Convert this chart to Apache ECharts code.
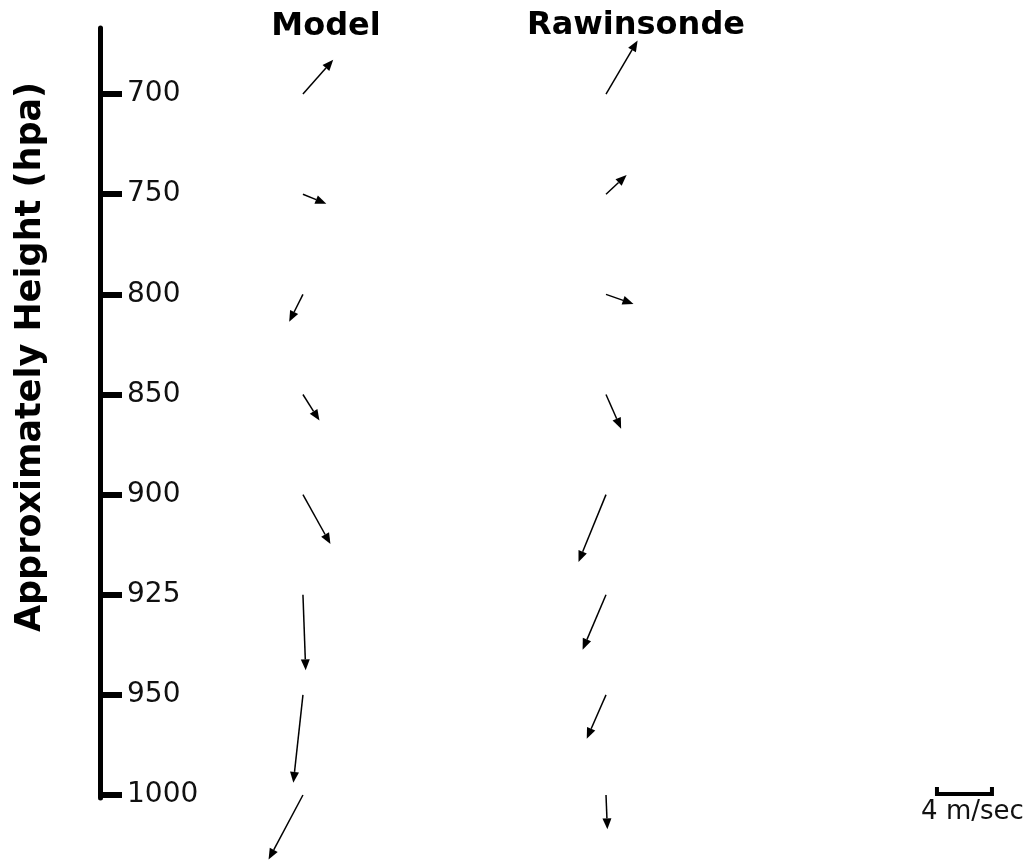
<!DOCTYPE html>
<html lang="en">
<head>
<meta charset="utf-8"/>
<title>Model vs Rawinsonde winds</title>
<script src="https://cdn.jsdelivr.net/npm/echarts@6.0.0/dist/echarts.min.js"></script>
<style>
    html, body { margin: 0; padding: 0; background: #fff; }
    #chart { width: 1033px; height: 865px; }
</style>
</head>
<body>
<div id="chart"></div>
<script>
// pressure levels (hPa), top to bottom
var levels = ['700', '750', '800', '850', '900', '925', '950', '1000'];
// wind components in m/s (u = eastward, v = northward)
var modelU = [2.2, 1.7, -1.0, 1.2, 2.0, 0.2, -0.7, -2.5];
var modelV = [2.5, -0.7, -2.0, -1.9, -3.6, -5.5, -6.4, -4.7];
var raobU = [2.3, 1.5, 2.0, 1.1, -2.0, -1.7, -1.4, 0.1];
var raobV = [3.9, 1.4, -0.7, -2.5, -4.9, -4.0, -3.2, -2.5];
var scaleSpeed = 4; // m/s

// column positions, in m/s units along the hidden x axis
var modelX = 14.76;
var raobX = 36.8;
var scaleX = 60.87;

var chart = echarts.init(document.getElementById('chart'));

function toData(u, v) {
    var out = [];
    for (var i = 0; i < levels.length; i++) {
        out.push([i, u[i], v[i]]);
    }
    return out;
}

// arrow from the level point, length scaled through the x axis (px per m/s)
function arrowRenderer(colX) {
    return function (params, api) {
        var tail = api.coord([colX, api.value(0)]);
        var unit = api.size([1, 0])[0];
        var hx = tail[0] + api.value(1) * unit;
        var hy = tail[1] - api.value(2) * unit;
        var ang = Math.atan2(hy - tail[1], hx - tail[0]);
        var len = 11, half = 4.5;
        var bx = hx - len * Math.cos(ang), by = hy - len * Math.sin(ang);
        var px = -Math.sin(ang) * half, py = Math.cos(ang) * half;
        return {
            type: 'group',
            children: [
                { type: 'line', shape: { x1: tail[0], y1: tail[1], x2: bx, y2: by },
                  style: { stroke: '#000', lineWidth: 1.5 } },
                { type: 'polygon', shape: { points: [[hx, hy], [bx + px, by + py], [bx - px, by - py]] },
                  style: { fill: '#000' } }
            ]
        };
    };
}

var option = {
    backgroundColor: '#fff',
    animation: false,
    grid: { left: 100, top: 28, width: 907.5, height: 770 },
    xAxis: { type: 'value', min: 0, max: 66, show: false },
    yAxis: {
        type: 'value',
        inverse: true,
        min: -0.66,
        max: 7.03,
        splitLine: { show: false },
        axisLine: { show: true, lineStyle: { color: '#000', width: 5 } },
        axisTick: {
            show: true, inside: true, length: 22,
            customValues: [0, 1, 2, 3, 4, 5, 6, 7],
            lineStyle: { color: '#000', width: 6 }
        },
        axisLabel: {
            inside: true, margin: 27,
            customValues: [0, 1, 2, 3, 4, 5, 6, 7],
            fontFamily: 'DejaVu Sans', fontSize: 28, color: '#111',
            formatter: function (v) { return levels[Math.round(v)]; }
        }
    },
    graphic: [
        { type: 'text', x: 326, y: 27,
          style: { text: 'Model', font: 'bold 32px "DejaVu Sans"', fill: '#000', align: 'center', verticalAlign: 'middle' } },
        { type: 'text', x: 636, y: 26,
          style: { text: 'Rawinsonde', font: 'bold 32px "DejaVu Sans"', fill: '#000', align: 'center', verticalAlign: 'middle' } },
        { type: 'text', x: 31, y: 357, rotation: Math.PI / 2,
          style: { text: 'Approximately Height (hpa)', font: 'bold 35px "DejaVu Sans"', fill: '#000', align: 'center', verticalAlign: 'middle' } }
    ],
    series: [
        {
            name: 'Model', type: 'custom', clip: false,
            renderItem: arrowRenderer(modelX),
            data: toData(modelU, modelV)
        },
        {
            name: 'Rawinsonde', type: 'custom', clip: false,
            renderItem: arrowRenderer(raobX),
            data: toData(raobU, raobV)
        },
        {
            // speed scale bar
            name: 'scale', type: 'custom', clip: false,
            renderItem: function (params, api) {
                var p = api.coord([scaleX, 7]);
                var w = api.size([api.value(0), 0])[0];
                var y = p[1] - 1;
                return {
                    type: 'group',
                    children: [
                        { type: 'polyline',
                          shape: { points: [[p[0], y - 7], [p[0], y], [p[0] + w, y], [p[0] + w, y - 7]] },
                          style: { stroke: '#000', lineWidth: 4, fill: null } },
                        { type: 'text', x: p[0] + w / 2 + 8, y: y + 18,
                          style: { text: api.value(0) + ' m/sec', font: '26px "DejaVu Sans"', fill: '#111',
                                   align: 'center', verticalAlign: 'middle' } }
                    ]
                };
            },
            data: [[scaleSpeed]]
        }
    ]
};
chart.setOption(option);
</script>
</body>
</html>
